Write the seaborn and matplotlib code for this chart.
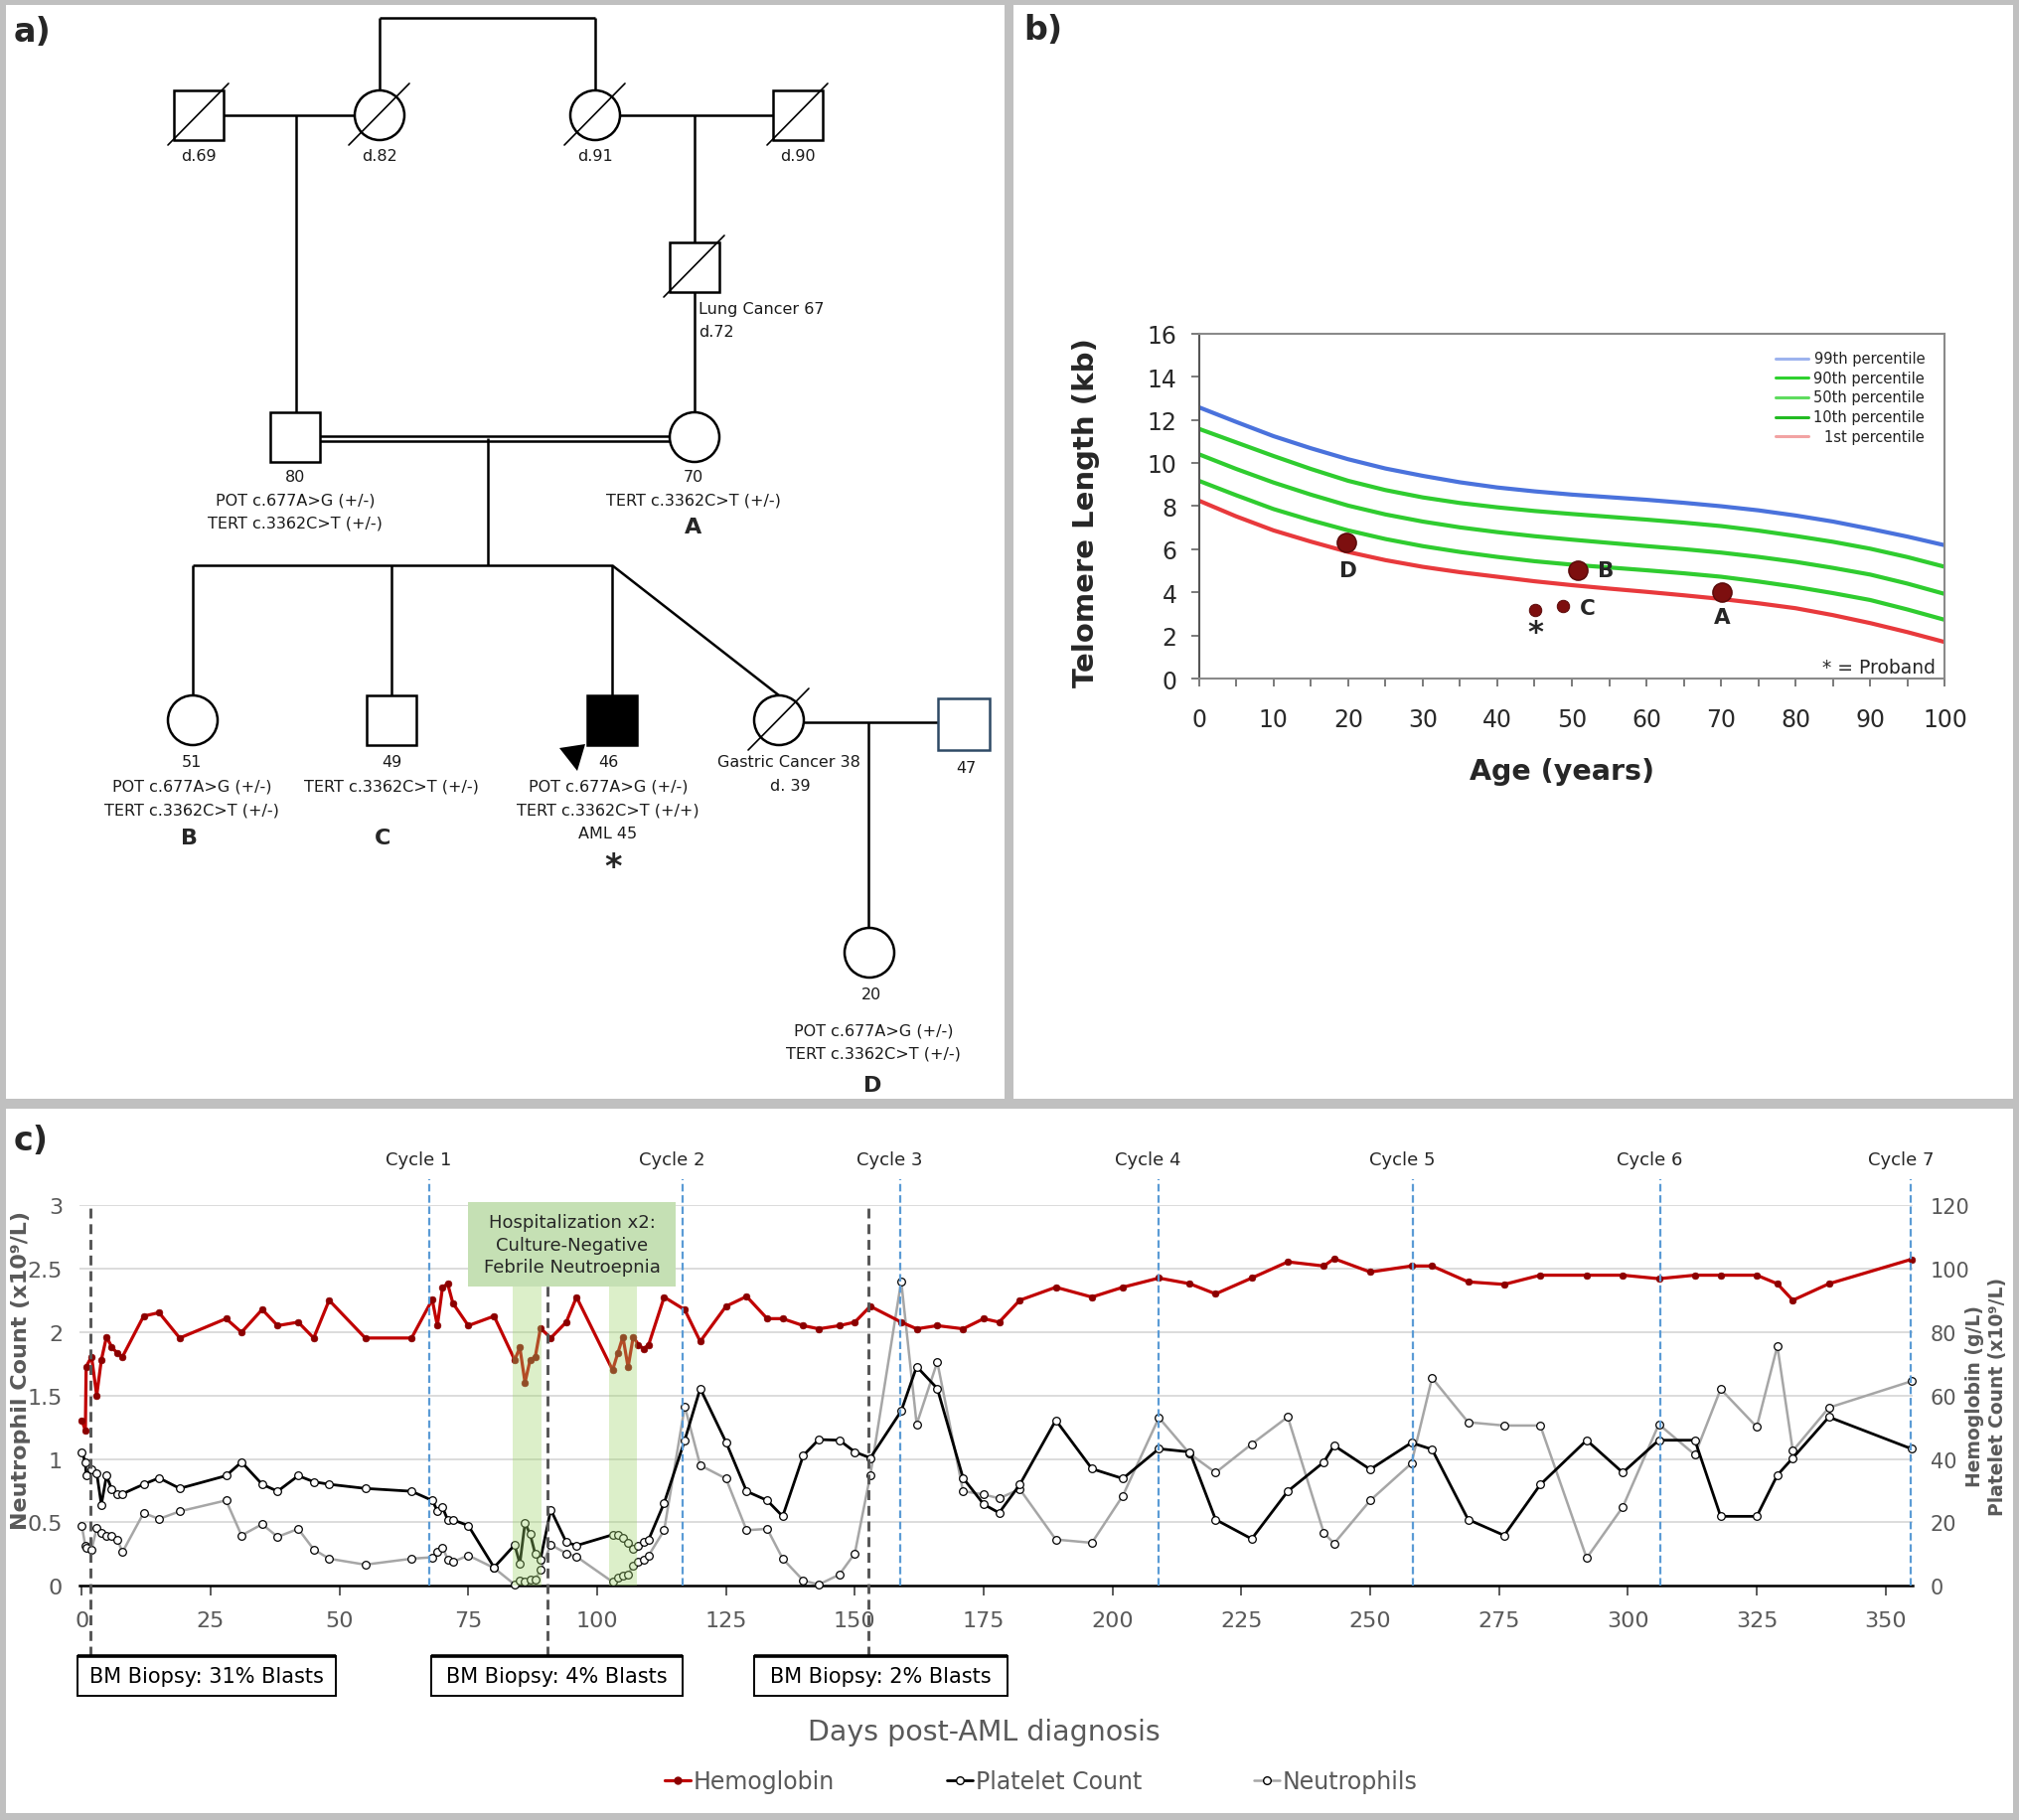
# Pedigree, telomere length and blood counts - three panel figure
import numpy as np
import pandas as pd
import matplotlib
matplotlib.use('Agg')
import matplotlib.pyplot as plt
import seaborn as sns
from matplotlib.patches import Rectangle, Circle, Polygon
from matplotlib.lines import Line2D

sns.set_style('white')
plt.rcParams['font.family'] = ['DejaVu Sans']

# ---------------- b) telomere length data ----------------
age = [0, 5, 10, 15, 20, 25, 30, 35, 40, 45, 50, 55, 60, 65, 70, 75, 80, 85, 90, 95, 100]
p99 = [12.58, 11.90, 11.24, 10.68, 10.17, 9.74, 9.40, 9.10, 8.86, 8.68, 8.53, 8.41, 8.29, 8.15, 7.99, 7.80, 7.56, 7.28, 6.94, 6.58, 6.18]
p90 = [11.58, 10.95, 10.32, 9.72, 9.17, 8.74, 8.40, 8.14, 7.94, 7.77, 7.63, 7.50, 7.37, 7.23, 7.07, 6.86, 6.61, 6.34, 6.02, 5.63, 5.18]
p50 = [10.40, 9.72, 9.09, 8.53, 8.02, 7.61, 7.28, 7.01, 6.79, 6.60, 6.44, 6.29, 6.14, 6.00, 5.84, 5.64, 5.41, 5.13, 4.82, 4.40, 3.92]
p10 = [9.17, 8.50, 7.86, 7.34, 6.87, 6.47, 6.14, 5.87, 5.64, 5.44, 5.28, 5.15, 5.02, 4.88, 4.72, 4.50, 4.25, 3.96, 3.64, 3.20, 2.72]
p1 = [8.25, 7.52, 6.87, 6.35, 5.87, 5.49, 5.18, 4.93, 4.72, 4.51, 4.33, 4.17, 4.02, 3.86, 3.69, 3.49, 3.26, 2.94, 2.57, 2.15, 1.69]
pct_names = ['99th percentile', '90th percentile', '50th percentile', '10th percentile', '1st percentile']

fam_label = ['A', 'B', 'C', 'D', '*']
fam_age = [70.1, 50.8, 48.8, 19.8, 45.1]
fam_tl = [4.02, 5.01, 3.36, 6.30, 3.18]
fam_big = [True, True, False, True, False]

# ---------------- c) blood counts ----------------
day = [0, 0.7, 0.85, 1.9, 2.9, 3.8, 4.8, 5.8, 6.9, 7.9, 12, 15, 19, 28, 31, 35, 38, 42, 45, 48,
       55, 64, 68, 69, 70, 71, 72, 75, 80, 84, 85, 86, 87, 88, 89, 91, 94, 96, 103, 104,
       105, 106, 107, 108, 109, 110, 113, 117, 120, 125, 129, 133, 136, 140, 143, 147, 150, 153, 159, 162,
       166, 171, 175, 178, 182, 189, 196, 202, 209, 215, 220, 227, 234, 241, 243, 250, 258, 262, 269, 276,
       283, 292, 299, 306, 313, 318, 325, 329, 332, 339, 355]
hgb = [52.2, 49.0, 69.1, 72.2, 60.0, 71.2, 78.5, 75.3, 73.3, 72.2, 85.0, 86.1, 78.1, 84.2, 79.9, 87.1, 82.0, 83.1, 78.1, 90.0,
       78.1, 78.1, 90.2, 82.0, 94.1, 95.2, 89.1, 82.0, 85.0, 71.2, 75.1, 64.1, 71.2, 72.2, 81.2, 78.1, 83.1, 91.0, 68.0, 73.3,
       78.5, 68.9, 78.5, 76.0, 74.7, 76.0, 91.0, 87.0, 77.0, 88.1, 91.2, 84.2, 84.2, 82.0, 81.0, 82.0, 83.1, 88.1, 83.1, 81.0,
       82.0, 81.0, 84.2, 83.1, 90.0, 94.1, 91.0, 94.1, 97.0, 95.2, 92.0, 97.0, 102.1, 100.8, 103.1, 98.9, 100.8, 100.8, 95.8, 95.0,
       97.9, 97.9, 97.9, 96.8, 97.9, 97.9, 97.9, 95.2, 90.0, 95.2, 102.9]
platelets = [42.2, 39.0, 34.9, 36.7, 35.6, 25.6, 34.7, 30.5, 29.0, 29.0, 32.0, 34.0, 30.7, 34.7, 39.0, 32.0, 29.8, 34.7, 32.8, 32.0,
             30.7, 29.8, 26.9, 23.7, 24.7, 20.8, 20.8, 19.0, 5.8, 12.9, 7.0, 19.8, 16.3, 10.0, 8.3, 24.0, 13.8, 12.7, 16.1, 16.1,
             15.0, 13.6, 11.7, 12.5, 14.0, 14.6, 26.1, 45.9, 62.2, 45.3, 29.8, 26.9, 21.9, 41.1, 46.1, 45.9, 42.2, 40.3, 55.1, 69.1,
             62.2, 34.0, 25.7, 23.0, 31.9, 52.2, 36.9, 33.8, 43.2, 42.2, 20.9, 14.8, 29.8, 39.0, 44.2, 36.7, 45.1, 43.0, 20.9, 15.9,
             31.9, 45.9, 35.7, 45.9, 45.9, 21.9, 21.9, 34.9, 40.3, 53.2, 43.2]
neut = [0.475, 0.313, 0.30, 0.287, 0.454, 0.417, 0.397, 0.397, 0.365, 0.266, 0.574, 0.527, 0.587, 0.673, 0.397, 0.486, 0.386, 0.449, 0.287, 0.214,
        0.167, 0.214, 0.225, 0.266, 0.303, 0.209, 0.188, 0.240, 0.141, 0.010, 0.042, 0.031, 0.052, 0.052, 0.125, 0.324, 0.256, 0.230, 0.031, 0.063,
        0.078, 0.089, 0.162, 0.188, 0.209, 0.240, 0.438, 1.414, 0.950, 0.845, 0.438, 0.449, 0.214, 0.042, 0.010, 0.089, 0.256, 0.871, 2.400, 1.273,
        1.764, 0.746, 0.720, 0.689, 0.762, 0.365, 0.339, 0.710, 1.325, 1.040, 0.892, 1.117, 1.331, 0.417, 0.334, 0.673, 0.965, 1.638, 1.289, 1.263,
        1.263, 0.219, 0.621, 1.273, 1.033, 1.550, 1.252, 1.889, 1.064, 1.404, 1.612]

cycle_day = [67.4, 116.6, 158.8, 208.9, 258.3, 306.3, 354.9]
cycle_label = ['Cycle 1', 'Cycle 2', 'Cycle 3', 'Cycle 4', 'Cycle 5', 'Cycle 6', 'Cycle 7']
biopsy_day = [1.6, 90.4, 152.7]
biopsy_label = ['BM Biopsy: 31% Blasts', 'BM Biopsy: 4% Blasts', 'BM Biopsy: 2% Blasts']
biopsy_box = [(-0.9, 49.3), (67.8, 116.5), (130.5, 179.6)]
hosp_span = [(83.7, 89.2), (102.3, 107.8)]

W, H = 2032, 1833
GREY_TXT = '#595959'

fig = plt.figure(figsize=(W / 100, H / 100), dpi=100, facecolor='#c0c0c0')

# canvas in pixel coordinates for the panel backgrounds and the pedigree
pa = fig.add_axes([0, 0, 1, 1])
pa.set_xlim(0, W)
pa.set_ylim(H, 0)
pa.axis('off')
for x0, y0, x1, y1 in [(6, 6, 1011, 1107), (1020, 6, 2026, 1107), (6, 1117, 2026, 1826)]:
    pa.add_patch(Rectangle((x0, y0), x1 - x0, y1 - y0, fc='white', ec='none', zorder=0))

pa.text(14, 32, 'a)', fontsize=24, fontweight='bold', va='center')
pa.text(1030, 30, 'b)', fontsize=24, fontweight='bold', va='center')
pa.text(14, 1148, 'c)', fontsize=24, fontweight='bold', va='center')

# ---------------- a) pedigree ----------------
def person(kind, cx, cy, filled=False, dead=False, ec='black', s=50):
    if kind == 'sq':
        pa.add_patch(Rectangle((cx - s / 2, cy - s / 2), s, s, fc='black' if filled else 'white',
                               ec=ec, lw=1.8, zorder=3))
    else:
        pa.add_patch(Circle((cx, cy), s / 2, fc='white', ec=ec, lw=1.8, zorder=3))
    if dead:
        pa.plot([cx - 31, cx + 30], [cy + 30, cy - 32], color='black', lw=1.2, zorder=4)

people = [('sq', 200, 117, False, True), ('ci', 382, 117, False, True),
          ('ci', 599, 117, False, True), ('sq', 803, 117, False, True),
          ('sq', 699, 270, False, True),
          ('sq', 297, 441, False, False), ('ci', 699, 441, False, False),
          ('ci', 194, 726, False, False), ('sq', 394, 726, False, False),
          ('sq', 616, 726, True, False), ('ci', 784, 726, False, True),
          ('ci', 875, 960, False, False)]
for kind, cx, cy, filled, dead in people:
    person(kind, cx, cy, filled, dead)
person('sq', 970, 730, ec='#2f4a66', s=52)

links = [([382, 599], [19, 19]), ([382, 382], [19, 92]), ([599, 599], [19, 92]),
         ([225, 357], [117, 117]), ([298, 298], [117, 416]),
         ([624, 778], [117, 117]), ([699, 699], [117, 245]), ([699, 699], [295, 416]),
         ([322, 674], [439.5, 439.5]), ([322, 674], [444.5, 444.5]), ([491, 491], [442, 570]),
         ([194, 616], [570, 570]), ([194, 194], [570, 701]), ([394, 394], [570, 701]),
         ([616, 616], [570, 701]), ([616, 784], [570, 701]),
         ([809, 944], [728, 728]), ([874, 874], [728, 935])]
for xs, ys in links:
    pa.plot(xs, ys, color='black', lw=1.8, zorder=2, solid_capstyle='butt')

pa.add_patch(Polygon([(563, 754), (589, 750), (581, 777)], closed=True, fc='black', ec='none', zorder=4))

POT = 'POT c.677A>G (+/-)'
TERT = 'TERT c.3362C>T (+/-)'
ped_text = [(200, 157, 'd.69'), (382, 157, 'd.82'), (599, 157, 'd.91'), (803, 157, 'd.90'),
            (297, 480, '80'), (297, 504, POT), (297, 527, TERT),
            (698, 480, '70'), (698, 504, TERT),
            (193, 768, '51'), (193, 792, POT), (193, 816, TERT),
            (394, 768, '49'), (394, 792, TERT),
            (612, 768, '46'), (612, 792, POT), (612, 816, 'TERT c.3362C>T (+/+)'), (612, 840, 'AML 45'),
            (794, 768, 'Gastric Cancer 38'), (795, 792, 'd. 39'),
            (972, 773, '47'),
            (877, 1002, '20'), (879, 1038, POT), (879, 1061, TERT)]
for x, y, s in ped_text:
    pa.text(x, y, s, fontsize=11.5, ha='center', va='center', color='#1a1a1a')
pa.text(703, 311, 'Lung Cancer 67', fontsize=11.5, ha='left', va='center', color='#1a1a1a')
pa.text(703, 334, 'd.72', fontsize=11.5, ha='left', va='center', color='#1a1a1a')
for x, y, s in [(698, 531, 'A'), (190, 844, 'B'), (385, 844, 'C'), (878, 1093, 'D')]:
    pa.text(x, y, s, fontsize=16, fontweight='bold', ha='center', va='center')
pa.text(617, 873, '*', fontsize=24, fontweight='bold', ha='center', va='center')

# ---------------- b) telomere length ----------------
ax_b = fig.add_axes([1206.6 / W, 1 - 684 / H, 750.8 / W, 347.3 / H])
curves = pd.DataFrame({'age': age, '99th': p99, '90th': p90, '50th': p50, '10th': p10, '1st': p1})
curve_col = ['#4a72dc', '#2fcc2f', '#2fcc2f', '#2fcc2f', '#e8393c']
for col, c in zip(['99th', '90th', '50th', '10th', '1st'], curve_col):
    sns.lineplot(data=curves, x='age', y=col, ax=ax_b, color=c, lw=3.0, estimator=None, sort=False)

fam = pd.DataFrame({'age': fam_age, 'tl': fam_tl, 'big': fam_big})
sns.scatterplot(data=fam[fam.big], x='age', y='tl', ax=ax_b, s=190, color='#7d0f0f', edgecolor='#5a0a0a', zorder=5)
sns.scatterplot(data=fam[~fam.big], x='age', y='tl', ax=ax_b, s=80, color='#7d0f0f', edgecolor='#5a0a0a', zorder=5)

lab_off = {'A': (0, -1.15, 'center'), 'B': (2.6, 0, 'left'), 'C': (2.3, -0.07, 'left'),
           'D': (0.2, -1.28, 'center'), '*': (0, -1.05, 'center')}
for lab, x, y in zip(fam_label, fam_age, fam_tl):
    dx, dy, ha = lab_off[lab]
    ax_b.text(x + dx, y + dy, lab, fontsize=22 if lab == '*' else 15.5, fontweight='bold',
              ha=ha, va='center', zorder=6)
ax_b.text(98.8, 0.55, '* = Proband', fontsize=13.5, ha='right', va='center')

leg_col = ['#9db3ee', '#2fd12f', '#5fdc5f', '#22bb22', '#f2a3a3']
leg_y = [0.928, 0.872, 0.815, 0.758, 0.702]
for name, c, y in zip(pct_names, leg_col, leg_y):
    ax_b.plot([0.773, 0.817], [y, y], color=c, lw=2.2, transform=ax_b.transAxes)
    ax_b.text(0.973, y, name, fontsize=10.5, ha='right', va='center', transform=ax_b.transAxes, color='#222222')

ax_b.set_xlim(0, 100)
ax_b.set_ylim(0, 16)
ax_b.set_xticks(range(0, 101, 10))
ax_b.set_xticks(range(5, 100, 10), minor=True)
ax_b.set_yticks(range(0, 17, 2))
ax_b.tick_params(axis='both', which='both', direction='out', length=6, width=1.3, color='#707070',
                 labelsize=17, labelcolor='#2a2a2a')
ax_b.tick_params(axis='x', which='both', bottom=True, pad=15)
ax_b.tick_params(axis='y', left=True, pad=10)
for sp in ax_b.spines.values():
    sp.set_color('#8a8a8a')
    sp.set_linewidth(1.5)
ax_b.spines['left'].set_color('#555555')
ax_b.set_xlabel('Age (years)', fontsize=20.5, fontweight='bold', labelpad=8)
ax_b.set_ylabel('Telomere Length (kb)', fontsize=21, fontweight='bold')
ax_b.yaxis.set_label_coords((1107 - 1206.6) / 750.8, (684 - 516) / 347.3)
ax_b.xaxis.set_label_coords((1572 - 1206.6) / 750.8, -(763 - 684) / 347.3)

# ---------------- c) blood counts ----------------
ax_c = fig.add_axes([79.7 / W, 1 - 1597.3 / H, 1845 / W, 383.3 / H])
ax_r = ax_c.twinx()

counts = pd.DataFrame({'day': day, 'hgb': hgb, 'plt': platelets, 'neut': neut})
sns.lineplot(data=counts, x='day', y='neut', ax=ax_c, color='#a6a6a6', lw=1.8, marker='o', markersize=5.5,
             markerfacecolor='white', markeredgecolor='black', markeredgewidth=0.9,
             estimator=None, sort=False, clip_on=False, zorder=3)
sns.lineplot(data=counts, x='day', y='plt', ax=ax_r, color='black', lw=2.0, marker='o', markersize=5.5,
             markerfacecolor='white', markeredgecolor='black', markeredgewidth=0.9,
             estimator=None, sort=False, clip_on=False, zorder=3)
sns.lineplot(data=counts, x='day', y='hgb', ax=ax_r, color='#c00000', lw=2.3, marker='o', markersize=4.8,
             markerfacecolor='#8b0000', markeredgecolor='#8b0000', markeredgewidth=0.5,
             estimator=None, sort=False, clip_on=False, zorder=4)

ax_c.set_xlim(-0.5, 355.2)
ax_c.set_ylim(0, 3)
ax_r.set_ylim(0, 120)

# hospitalisation bands and box
for a, b in hosp_span:
    ax_r.axvspan(a, b, ymin=0, ymax=2.36 / 3, color='#9ed46a', alpha=0.36, lw=0, zorder=5)
ax_r.add_patch(Rectangle((75.0, 2.36), 40.3, 0.66, transform=ax_c.transData, fc='#c5e0b4',
                         ec='none', zorder=9, clip_on=False))
ax_r.text(95.15, 2.69, 'Hospitalization x2:\nCulture-Negative\nFebrile Neutroepnia', transform=ax_c.transData,
          ha='center', va='center', fontsize=13, color='#262626', linespacing=1.3, zorder=10)

# cycle markers and biopsies
for d, lab in zip(cycle_day, cycle_label):
    ax_r.plot([d, d], [0, 3.2], transform=ax_c.transData, color='#5b9bd5', lw=1.6,
              ls=(0, (3.4, 1.7)), clip_on=False, zorder=8)
    ax_r.text(d - 2, 3.36, lab, transform=ax_c.transData, ha='center', va='center',
              fontsize=13, color='#262626')
for d, lab, (a, b) in zip(biopsy_day, biopsy_label, biopsy_box):
    ax_r.plot([d, d], [-0.55, 3.0], transform=ax_c.transData, color='#555555', lw=2.1,
              ls=(0, (3.4, 2.0)), clip_on=False, zorder=8)
    ax_r.add_patch(Rectangle((a, -0.868), b - a, 0.318, transform=ax_c.transData, fc='white',
                             ec='black', lw=1.4, zorder=9, clip_on=False))
    ax_r.plot([a, b], [-0.55, -0.55], transform=ax_c.transData, color='black', lw=2.6,
              clip_on=False, zorder=10, solid_capstyle='butt')
    ax_r.text((a + b) / 2, -0.71, lab, transform=ax_c.transData, ha='center', va='center',
              fontsize=15, color='black', zorder=10)

ax_c.set_xticks(np.arange(0, 351, 25))
ax_c.set_yticks([0, 0.5, 1, 1.5, 2, 2.5, 3])
ax_c.set_yticklabels(['0', '0.5', '1', '1.5', '2', '2.5', '3'])
ax_r.set_yticks(range(0, 121, 20))
ax_c.grid(axis='y', color='#d9d9d9', lw=1.3)
ax_c.set_axisbelow(True)
ax_c.tick_params(axis='x', bottom=True, length=7, width=1.2, color='#404040', pad=11,
                 labelsize=16, labelcolor=GREY_TXT)
ax_c.tick_params(axis='y', length=0, pad=12, labelsize=16, labelcolor=GREY_TXT)
ax_r.tick_params(axis='y', length=0, pad=13, labelsize=15, labelcolor=GREY_TXT)
for s in ['left', 'right', 'top']:
    ax_c.spines[s].set_visible(False)
for s in ax_r.spines.values():
    s.set_visible(False)
ax_c.spines['bottom'].set_color('black')
ax_c.spines['bottom'].set_linewidth(1.8)

ax_c.set_xlabel('')
ax_c.set_ylabel('Neutrophil Count (x10⁹/L)', fontsize=16, fontweight='bold', color=GREY_TXT)
ax_c.yaxis.set_label_coords((31 - 79.7) / 1845, 0.567)
ax_r.set_ylabel('Hemoglobin (g/L)\nPlatelet Count (x10⁹/L)', fontsize=13.5, fontweight='bold',
                color=GREY_TXT, linespacing=1.25)
ax_r.yaxis.set_label_coords((1978 - 79.7) / 1845, 0.50)

fig.text(990 / W, 1 - 1744 / H, 'Days post-AML diagnosis', fontsize=20.5, color=GREY_TXT,
         ha='center', va='center')

handles = [Line2D([], [], color='#c00000', lw=2.3, marker='o', markersize=5, markerfacecolor='#8b0000',
                  markeredgecolor='#8b0000'),
           Line2D([], [], color='black', lw=2.0, marker='o', markersize=5.5, markerfacecolor='white',
                  markeredgecolor='black'),
           Line2D([], [], color='#a6a6a6', lw=1.8, marker='o', markersize=5.5, markerfacecolor='white',
                  markeredgecolor='black')]
leg = fig.legend(handles, ['Hemoglobin', 'Platelet Count', 'Neutrophils'], loc='center',
                 bbox_to_anchor=(1048 / W, 1 - 1794 / H), ncol=3, frameon=False, fontsize=17,
                 handlelength=1.1, handletextpad=0.1, columnspacing=4.8)
for t in leg.get_texts():
    t.set_color(GREY_TXT)

fig.savefig('out.png', dpi=100, facecolor=fig.get_facecolor())
